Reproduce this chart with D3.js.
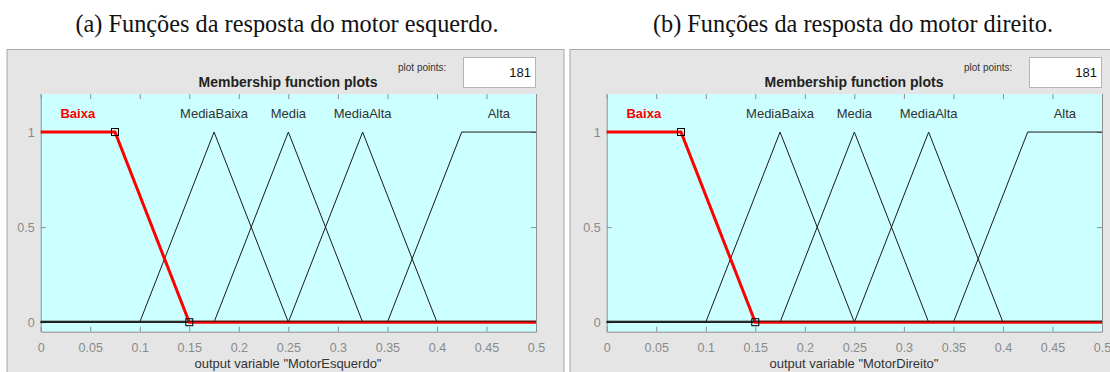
<!DOCTYPE html>
<html lang="pt">

<head>
  <meta charset="UTF-8">
  <title>Membership function plots</title>
  <script src="https://d3js.org/d3.v7.min.js"></script>
  <style>
    body { margin: 0; background: #fff; }
    .caption { font: 24.3px "Liberation Serif", "Times New Roman", serif; fill: #111; text-anchor: middle; }
    .title { font: bold 14px "Liberation Sans", Arial, sans-serif; fill: #222; text-anchor: middle; }
    .small { font: 10px "Liberation Sans", Arial, sans-serif; fill: #333; }
    .mf-label { font: 13px "Liberation Sans", Arial, sans-serif; fill: #333; text-anchor: middle; }
    .axis text { font: 12.5px "Liberation Sans", Arial, sans-serif; fill: #8a8a8a; }
    .axis path, .axis line { stroke: #8f8f8f; }
    .xlabel { font: 13px "Liberation Sans", Arial, sans-serif; fill: #333; text-anchor: middle; }
  </style>
</head>

<body>
  <svg width="1110" height="372"></svg>
  <script>
    // data
    const captions = ['(a) Funções da resposta do motor esquerdo.', '(b) Funções da resposta do motor direito.'];
    const varNames = ['MotorEsquerdo', 'MotorDireito'];
    const plotPoints = 181;
    const xTicks = [0, 0.05, 0.1, 0.15, 0.2, 0.25, 0.3, 0.35, 0.4, 0.45, 0.5];
    const yTicks = [0, 0.5, 1];
    const mfNames = ['Baixa', 'MediaBaixa', 'Media', 'MediaAlta', 'Alta'];
    // vertices of each membership function over the range [0, 0.5]
    const mfX = [
      [0, 0.075, 0.15, 0.5],
      [0, 0.1, 0.175, 0.25, 0.5],
      [0, 0.175, 0.25, 0.325, 0.5],
      [0, 0.25, 0.325, 0.4, 0.5],
      [0, 0.35, 0.425, 0.5]
    ];
    const mfY = [
      [1, 1, 0, 0],
      [0, 0, 1, 0, 0],
      [0, 0, 1, 0, 0],
      [0, 0, 1, 0, 0],
      [0, 0, 1, 1]
    ];
    const selected = 0; // Baixa is highlighted

    const svg = d3.select('svg');
    const offsets = [0, 566];

    const x = d3.scaleLinear().domain([0, 0.5]).range([40.7, 536]);
    const y = d3.scaleLinear().domain([-0.05, 1.2]).range([331.7, 94]);

    const line = d3.line()
      .x(d => x(d[0]))
      .y(d => y(d[1]));

    offsets.forEach((ox, p) => {
      const g = svg.append('g').attr('transform', `translate(${ox},0)`);

      svg.append('text')
        .attr('class', 'caption')
        .attr('x', ox + 287)
        .attr('y', 31.5)
        .text(captions[p]);

      // gray figure panel
      g.append('rect')
        .attr('x', p === 0 ? 7 : 4)
        .attr('y', 49.5)
        .attr('width', p === 0 ? 557 : 600)
        .attr('height', 340)
        .attr('fill', '#e5e5e5')
        .attr('stroke', '#a8a8a8');

      g.append('text')
        .attr('class', 'small')
        .attr('x', 398)
        .attr('y', 71)
        .text('plot points:');

      g.append('rect')
        .attr('x', 463.5)
        .attr('y', 57.5)
        .attr('width', 72)
        .attr('height', 30)
        .attr('fill', '#fff')
        .attr('stroke', '#b4b4b4');

      g.append('text')
        .attr('class', 'small')
        .attr('x', 531)
        .attr('y', 77)
        .attr('text-anchor', 'end')
        .style('font-size', '13px')
        .style('fill', '#111')
        .text(plotPoints);

      g.append('text')
        .attr('class', 'title')
        .attr('x', 288)
        .attr('y', 87)
        .text('Membership function plots');

      // plot area
      g.append('rect')
        .attr('x', x(0))
        .attr('y', y(1.2))
        .attr('width', x(0.5) - x(0))
        .attr('height', y(-0.05) - y(1.2))
        .attr('fill', '#ccffff');

      g.append('g')
        .attr('class', 'axis')
        .attr('transform', `translate(0,${y(-0.05)})`)
        .call(d3.axisBottom(x).tickValues(xTicks).tickFormat(d3.format('')).tickSize(-5).tickPadding(11).tickSizeOuter(0));

      g.append('g')
        .attr('class', 'axis')
        .attr('transform', `translate(0,${y(1.2)})`)
        .call(d3.axisTop(x).tickValues(xTicks).tickFormat('').tickSize(-5).tickSizeOuter(0))
        .select('.domain').remove();

      g.append('g')
        .attr('class', 'axis')
        .attr('transform', `translate(${x(0)},0)`)
        .call(d3.axisLeft(y).tickValues(yTicks).tickFormat(d3.format('')).tickSize(-5).tickPadding(6).tickSizeOuter(0));

      g.append('g')
        .attr('class', 'axis')
        .attr('transform', `translate(${x(0.5)},0)`)
        .call(d3.axisRight(y).tickValues(yTicks).tickFormat('').tickSize(-5).tickSizeOuter(0));

      // membership functions
      mfNames.forEach((name, i) => {
        if (i === selected) return;
        g.append('path')
          .attr('d', line(mfX[i].map((v, k) => [v, mfY[i][k]])))
          .attr('fill', 'none')
          .attr('stroke', '#1a1a1a')
          .attr('stroke-width', 1);
      });

      const sel = mfX[selected].map((v, k) => [v, mfY[selected][k]]);
      g.append('path')
        .attr('d', line(sel))
        .attr('fill', 'none')
        .attr('stroke', '#ff0000')
        .attr('stroke-width', 3);

      g.append('path')
        .attr('d', line([[0, 0], [0.5, 0]]))
        .attr('fill', 'none')
        .attr('stroke', '#1a1a1a')
        .attr('stroke-width', 1)
        .attr('transform', 'translate(0,-1)');

      // square handles on the selected function
      g.selectAll('.handle')
        .data(sel.slice(1, 3))
        .enter()
        .append('rect')
        .attr('class', 'handle')
        .attr('x', d => x(d[0]) - 3.5)
        .attr('y', d => y(d[1]) - 3.5)
        .attr('width', 7)
        .attr('height', 7)
        .attr('fill', 'none')
        .attr('stroke', '#000');

      // labels centred on the plateau of each function
      mfNames.forEach((name, i) => {
        const top = mfX[i].filter((v, k) => mfY[i][k] === 1);
        g.append('text')
          .attr('class', 'mf-label')
          .attr('x', x(d3.mean(top)))
          .attr('y', 118)
          .style('fill', i === selected ? '#ff0000' : '#333')
          .style('font-weight', i === selected ? 'bold' : 'normal')
          .text(name);
      });

      g.append('text')
        .attr('class', 'xlabel')
        .attr('x', 288)
        .attr('y', 368)
        .text(`output variable "${varNames[p]}"`);
    });
  </script>
</body>

</html>
